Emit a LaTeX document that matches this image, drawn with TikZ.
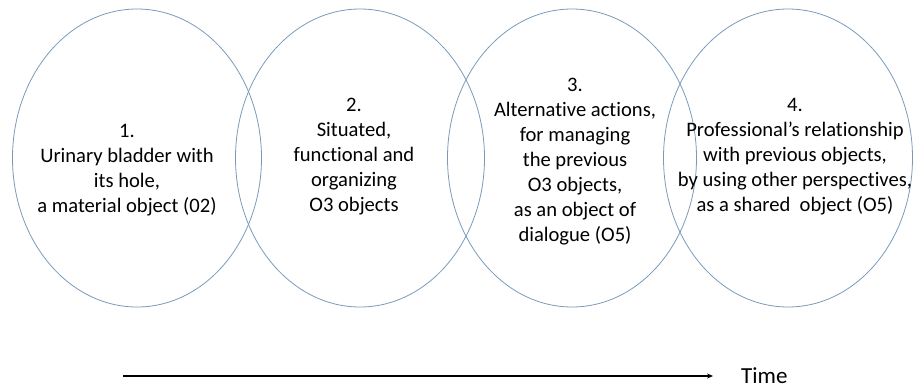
\documentclass[tikz,border=0pt]{standalone}
\usepackage{fontspec}
\setmainfont{Carlito}[Ligatures=CommonOff,RawFeature=-clig,RawFeature=-calt]
\usetikzlibrary{positioning,arrows.meta,shapes.geometric}
\definecolor{ringblue}{RGB}{122,154,186}
\tikzset{
	ring/.style={draw=ringblue,line width=0.8pt,ellipse,minimum width=249pt,minimum height=298pt,inner sep=0pt},
	ringtext/.style={align=center,font=\fontsize{20.6}{25}\selectfont,inner sep=0pt},
	timeline/.style={-{Stealth[length=6pt,width=5pt]},line width=1.3pt,shorten >=28pt}
}
\newcommand{\phase}[5]{
	\node [ring] (#1) at (#2,158) {};
	\node [ringtext] (#1txt) at (#3,#4) {#5}
}

\begin{document}
\begin{tikzpicture}[x=1pt,y=-1pt]
	\useasboundingbox (0,0) rectangle (915,389);
	% the four objects
	\phase {o1}{137}{127}{170}{1.\\Urinary bladder with\\its hole,\\a material object (02)};
	\phase {o2}{360}{354}{157}{2.\\Situated,\\functional and\\organizing\\O3 objects};
	\phase {o3}{572}{575}{162}{3.\\Alternative actions,\\for managing\\the previous\\O3 objects,\\as an object of\\dialogue (O5)};
	\phase {o4}{788}{795}{157}{4.\\Professional’s relationship\\with previous objects,\\by using other perspectives,\\as a shared\ \ object (O5)};

	% time axis
	\coordinate (t0) at (123,376);
	\node [font=\fontsize{23}{25}\selectfont,anchor=west,inner sep=0pt] (time) at (741,376) {Time};
	\draw [timeline] (t0) -- (time.west);
\end{tikzpicture}
\end{document}
